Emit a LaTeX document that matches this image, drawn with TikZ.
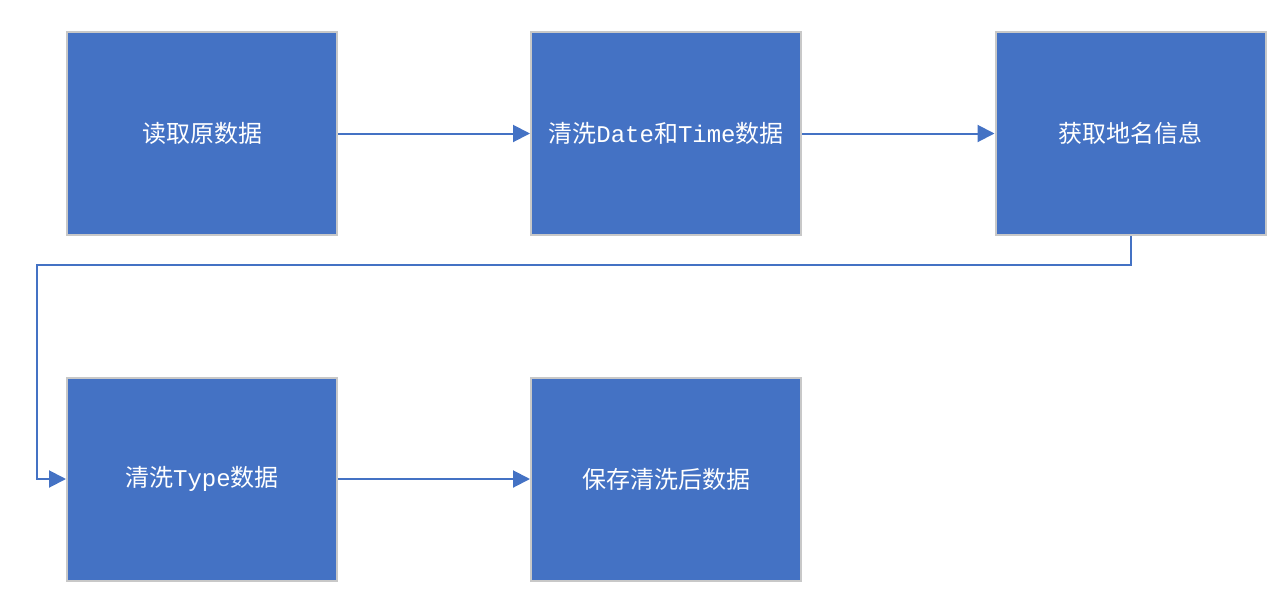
\documentclass[tikz,border=0pt]{standalone}
\usepackage{fontspec}
\newfontfamily\cjk{Noto Sans CJK SC}
\newfontfamily\lat{Liberation Mono}
\usetikzlibrary{arrows.meta}
\definecolor{boxblue}{HTML}{4472C4}
\definecolor{edgegray}{HTML}{C8C8C8}
\tikzset{
  stepbox/.style={draw=edgegray, line width=2pt, fill=boxblue, minimum width=270pt, minimum height=203pt, inner sep=0pt, text=white, font=\cjk\fontsize{24}{28}\selectfont},
  flow/.style={draw=boxblue, line width=2pt, -{Triangle[length=17pt,width=17pt]}}
}
\begin{document}
\begin{tikzpicture}[x=1pt,y=-1pt]
\useasboundingbox (0,0) rectangle (1283,603);
\node[stepbox] (a) at (202,133.5) {读取原数据};
\node[stepbox] (b) at (666,133.5) {清洗{\lat Date}和{\lat Time}数据};
\node[stepbox] (c) at (1130.5,133.5) {获取地名信息};
\node[stepbox] (d) at (202,479) {清洗{\lat Type}数据};
\node[stepbox] (e) at (666,479) {保存清洗后数据};
\coordinate (k1) at (1130.5,265);
\coordinate (k2) at (37,265);
\draw[flow] (a) -- (b);
\draw[flow] (b) -- (c);
\draw[flow] (c.south) -- (k1) -- (k2) |- (d.west);
\draw[flow] (d) -- (e);
\end{tikzpicture}
\end{document}
